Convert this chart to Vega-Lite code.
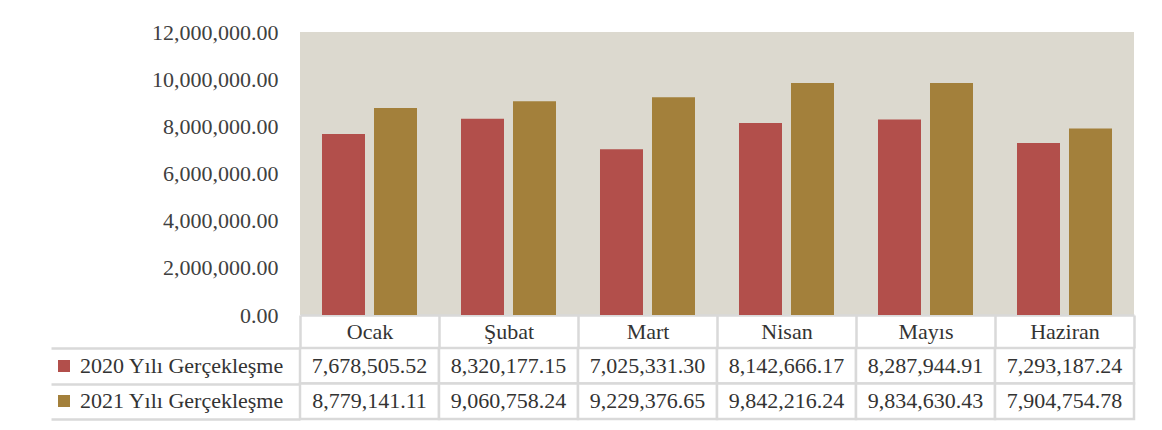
{
  "$schema": "https://vega.github.io/schema/vega-lite/v6.json",
  "padding": {"left": 49, "top": 21, "right": 5, "bottom": 5},
  "bounds": "flush",
  "spacing": 33,
  "config": {
    "font": "Liberation Serif, serif",
    "axis": {"labelFont": "Liberation Serif, serif"},
    "legend": {"labelFont": "Liberation Serif, serif"},
    "text": {"font": "Liberation Serif, serif"},
    "view": {"stroke": null}
  },
  "datasets": {
    "tbl": [
      {"month": "Ocak", "series": "2020 Yılı Gerçekleşme", "value": 7678505.52},
      {"month": "Şubat", "series": "2020 Yılı Gerçekleşme", "value": 8320177.15},
      {"month": "Mart", "series": "2020 Yılı Gerçekleşme", "value": 7025331.30},
      {"month": "Nisan", "series": "2020 Yılı Gerçekleşme", "value": 8142666.17},
      {"month": "Mayıs", "series": "2020 Yılı Gerçekleşme", "value": 8287944.91},
      {"month": "Haziran", "series": "2020 Yılı Gerçekleşme", "value": 7293187.24},
      {"month": "Ocak", "series": "2021 Yılı Gerçekleşme", "value": 8779141.11},
      {"month": "Şubat", "series": "2021 Yılı Gerçekleşme", "value": 9060758.24},
      {"month": "Mart", "series": "2021 Yılı Gerçekleşme", "value": 9229376.65},
      {"month": "Nisan", "series": "2021 Yılı Gerçekleşme", "value": 9842216.24},
      {"month": "Mayıs", "series": "2021 Yılı Gerçekleşme", "value": 9834630.43},
      {"month": "Haziran", "series": "2021 Yılı Gerçekleşme", "value": 7904754.78}
    ]
  },
  "resolve": {"legend": {"color": "independent"}, "scale": {"x": "independent", "y": "independent"}},
  "vconcat": [
    {
      "width": 834,
      "height": 283,
      "view": {"fill": "#dcd9cf", "stroke": null},
      "data": {"name": "tbl"},
      "mark": {"type": "bar"},
      "encoding": {
        "x": {
          "field": "month",
          "type": "nominal",
          "sort": ["Ocak", "Şubat", "Mart", "Nisan", "Mayıs", "Haziran"],
          "scale": {"paddingInner": 0, "paddingOuter": 0},
          "axis": {
            "title": null,
            "labelAngle": 0,
            "labelFontSize": 22,
            "labelColor": "#333333",
            "labelBaseline": "middle",
            "labelPadding": -16.5,
            "ticks": true,
            "tickBand": "extent",
            "tickSize": 33,
            "tickWidth": 2.5,
            "tickColor": "#d9d9d9",
            "domain": true,
            "domainColor": "#d9d9d9",
            "domainWidth": 2.5
          }
        },
        "xOffset": {
          "field": "series",
          "type": "nominal",
          "scale": {"paddingInner": 0.173, "paddingOuter": 0.423}
        },
        "y": {
          "field": "value",
          "type": "quantitative",
          "scale": {"domain": [0, 12000000], "nice": false},
          "axis": {
            "title": null,
            "values": [0, 2000000, 4000000, 6000000, 8000000, 10000000, 12000000],
            "format": ",.2f",
            "labelFontSize": 22,
            "labelColor": "#404040",
            "labelPadding": 22,
            "ticks": false,
            "domain": false,
            "grid": false
          }
        },
        "color": {
          "field": "series",
          "type": "nominal",
          "scale": {"range": ["#b24f4b", "#a3803b"]},
          "legend": {
            "orient": "none",
            "legendX": -249,
            "legendY": 321,
            "title": null,
            "symbolType": "square",
            "symbolSize": 144,
            "symbolStrokeWidth": 0,
            "labelFontSize": 22,
            "labelColor": "#333333",
            "labelOffset": 5,
            "labelLimit": 300,
            "rowPadding": 13,
            "padding": 2
          }
        }
      }
    },
    {
      "width": 834,
      "height": 71,
      "data": {"name": "tbl"},
      "encoding": {
        "x": {
          "field": "month",
          "type": "nominal",
          "sort": ["Ocak", "Şubat", "Mart", "Nisan", "Mayıs", "Haziran"],
          "scale": {"paddingInner": 0, "paddingOuter": 0},
          "axis": null
        },
        "y": {
          "field": "series",
          "type": "nominal",
          "scale": {"paddingInner": 0, "paddingOuter": 0},
          "axis": {
            "title": null,
            "labels": false,
            "ticks": true,
            "tickBand": "extent",
            "tickSize": 249,
            "tickWidth": 2.5,
            "tickColor": "#d9d9d9",
            "domain": false
          }
        }
      },
      "layer": [
        {"mark": {"type": "rect", "fill": "#ffffff", "stroke": "#d9d9d9", "strokeWidth": 2.5}},
        {
          "mark": {"type": "text", "fontSize": 22, "color": "#333333", "baseline": "middle", "align": "center"},
          "encoding": {"text": {"field": "value", "type": "quantitative", "format": ",.2f"}}
        }
      ]
    }
  ]
}
